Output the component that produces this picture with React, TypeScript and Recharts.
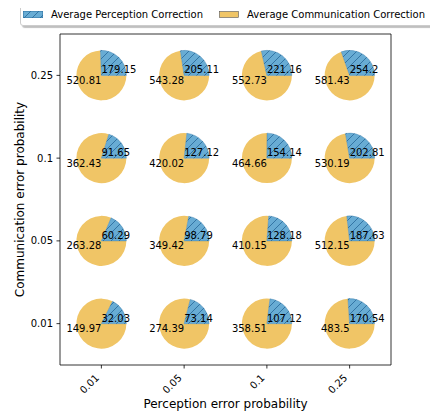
import React from 'react';
import { ScatterChart, Scatter, XAxis, YAxis, Legend, ReferenceLine, Sector, Label } from 'recharts';

// Tick labels
const perceptionLevels = ['0.01', '0.05', '0.1', '0.25'];
const communicationLevels = ['0.01', '0.05', '0.1', '0.25'];

// Rows: communication error level (0.01 .. 0.25), columns: perception error level (0.01 .. 0.25)
const perceptionCorrection = [
  [32.03, 73.14, 107.12, 170.54],
  [60.29, 98.79, 128.18, 187.63],
  [91.65, 127.12, 154.14, 202.81],
  [179.15, 205.11, 221.16, 254.2],
];
const communicationCorrection = [
  [149.97, 274.39, 358.51, 483.5],
  [263.28, 349.42, 410.15, 512.15],
  [362.43, 420.02, 464.66, 530.19],
  [520.81, 543.28, 552.73, 581.43],
];

const seriesNames = ['Average Perception Correction', 'Average Communication Correction'];

const BLUE = '#68acd4';
const HATCH = '#2c6e9e';
const YELLOW = '#f0c566';
const FONT = 'DejaVu Sans, sans-serif';
const R = 25;

const points: { x: number; y: number; p: number; m: number }[] = [];
communicationLevels.forEach((_, r) => {
  perceptionLevels.forEach((__, c) => {
    points.push({ x: c, y: r, p: perceptionCorrection[r][c], m: communicationCorrection[r][c] });
  });
});

const PieShape = (props: any) => {
  const { cx, cy, payload } = props;
  if (cx == null || cy == null) return null;
  const total = payload.p + payload.m;
  const a = (360 * payload.p) / total;
  return (
    <g>
      <Sector cx={cx} cy={cy} innerRadius={0} outerRadius={R} startAngle={a} endAngle={360} fill={YELLOW} stroke="none" />
      <Sector cx={cx} cy={cy} innerRadius={0} outerRadius={R} startAngle={0} endAngle={a} fill={BLUE} stroke="none" />
      <Sector cx={cx} cy={cy} innerRadius={0} outerRadius={R} startAngle={0} endAngle={a} fill="url(#hatchBlue)" stroke={HATCH} strokeWidth={0.5} strokeOpacity={0.7} />
      <text x={cx} y={cy - 2} textAnchor="start" fontSize={10} fontFamily={FONT} fill="#000">{String(payload.p)}</text>
      <text x={cx} y={cy + 8.5} textAnchor="end" fontSize={10} fontFamily={FONT} fill="#000">{String(payload.m)}</text>
    </g>
  );
};

const XTick = (props: any) => {
  const { x, y, payload } = props;
  const tx = x - 4;
  const ty = y + 4;
  return (
    <text x={tx} y={ty} transform={`rotate(-45 ${tx} ${ty})`} textAnchor="end" dominantBaseline="central" fontSize={10} fontFamily={FONT} fill="#000">
      {perceptionLevels[payload.value]}
    </text>
  );
};

const YTick = (props: any) => {
  const { x, y, payload } = props;
  return (
    <text x={x} y={y} textAnchor="end" dominantBaseline="central" fontSize={10} fontFamily={FONT} fill="#000">
      {communicationLevels[payload.value]}
    </text>
  );
};

const LegendContent = () => (
  <div
    style={{
      boxSizing: 'border-box',
      width: 413,
      height: 23,
      border: '1px solid #cccccc',
      borderRadius: 3,
      background: 'rgba(255,255,255,0.9)',
      boxShadow: '2px 2px 1px rgba(0,0,0,0.25)',
      display: 'flex',
      alignItems: 'center',
      fontFamily: FONT,
      fontSize: 10,
      color: '#000',
      whiteSpace: 'nowrap',
    }}
  >
    <svg width={20} height={7} style={{ marginLeft: 2, display: 'block' }}>
      <rect x={0} y={0} width={20} height={7} fill={BLUE} />
      <rect x={0} y={0} width={20} height={7} fill="url(#hatchBlue)" stroke={HATCH} strokeWidth={1} />
    </svg>
    <span style={{ marginLeft: 8 }}>{seriesNames[0]}</span>
    <svg width={20} height={7} style={{ marginLeft: 16, display: 'block' }}>
      <rect x={0.5} y={0.5} width={19} height={6} fill={YELLOW} stroke="#555" strokeWidth={0.6} />
    </svg>
    <span style={{ marginLeft: 8 }}>{seriesNames[1]}</span>
  </div>
);

export default function App() {
  return (
    <div style={{ position: 'relative', left: -8, top: -8, width: 438, height: 417, background: '#fff' }}>
      <svg width={0} height={0} style={{ position: 'absolute' }}>
        <defs>
          <pattern id="hatchBlue" patternUnits="userSpaceOnUse" width={8} height={8}>
            <path d="M0,8 L8,0 M-2,2 L2,-2 M6,10 L10,6" stroke={HATCH} strokeWidth={0.9} />
          </pattern>
        </defs>
      </svg>
      <ScatterChart width={438} height={417} margin={{ top: 34, right: 47, bottom: 0, left: 10 }}>
        <XAxis
          dataKey="x"
          type="number"
          domain={[-0.5, 3.5]}
          ticks={[0, 1, 2, 3]}
          allowDataOverflow
          height={52}
          tickSize={3.5}
          tickMargin={3.5}
          tick={<XTick />}
          axisLine={{ stroke: '#000', strokeWidth: 0.8 }}
          tickLine={{ stroke: '#000', strokeWidth: 0.8 }}
        >
          <Label
            content={(p: any) => {
              const vb = p.viewBox || {};
              return (
                <text x={vb.x + vb.width / 2} y={vb.y + 39} textAnchor="middle" dominantBaseline="central" fontSize={12} fontFamily={FONT} fill="#000">
                  Perception error probability
                </text>
              );
            }}
          />
        </XAxis>
        <YAxis
          dataKey="y"
          type="number"
          domain={[-0.5, 3.5]}
          ticks={[0, 1, 2, 3]}
          allowDataOverflow
          width={50}
          tickSize={3.5}
          tickMargin={3.5}
          tick={<YTick />}
          axisLine={{ stroke: '#000', strokeWidth: 0.8 }}
          tickLine={{ stroke: '#000', strokeWidth: 0.8 }}
        >
          <Label
            content={(p: any) => {
              const vb = p.viewBox || {};
              const lx = 20;
              const ly = vb.y + vb.height / 2;
              return (
                <text x={lx} y={ly} transform={`rotate(-90 ${lx} ${ly})`} textAnchor="middle" dominantBaseline="central" fontSize={12} fontFamily={FONT} fill="#000">
                  Communication error probability
                </text>
              );
            }}
          />
        </YAxis>
        <ReferenceLine x={3.5} stroke="#000" strokeWidth={0.8} />
        <ReferenceLine y={3.5} stroke="#000" strokeWidth={0.8} />
        <Scatter data={points} shape={PieShape} isAnimationActive={false} />
        <Legend
          layout="vertical"
          align="center"
          verticalAlign="middle"
          wrapperStyle={{ top: 3, left: 20, width: 413, height: 23 }}
          content={() => <LegendContent />}
        />
      </ScatterChart>
    </div>
  );
}
